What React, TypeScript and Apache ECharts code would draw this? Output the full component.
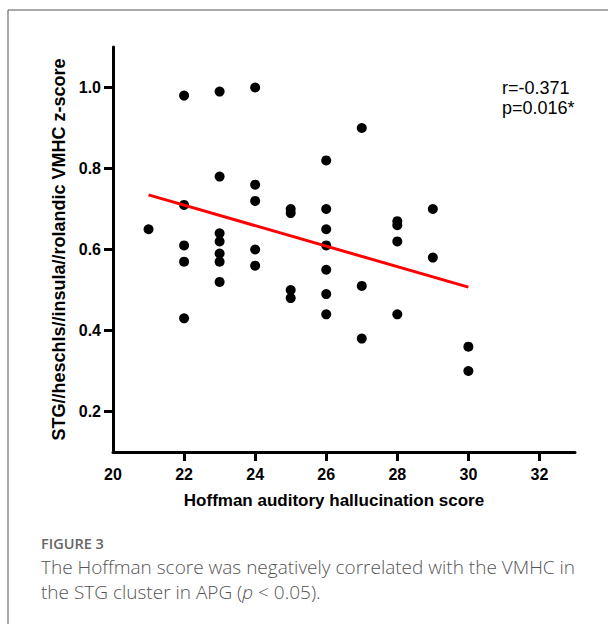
import React, { useEffect, useRef } from "react";
import * as echarts from "echarts";

const scoreX = [
  21,
  22, 22, 22, 22, 22,
  23, 23, 23, 23, 23, 23, 23,
  24, 24, 24, 24, 24,
  25, 25, 25, 25,
  26, 26, 26, 26, 26, 26, 26,
  27, 27, 27,
  28, 28, 28, 28,
  29, 29,
  30, 30,
];
const vmhc = [
  0.65,
  0.98, 0.71, 0.61, 0.57, 0.43,
  0.99, 0.78, 0.64, 0.62, 0.59, 0.57, 0.52,
  1.0, 0.76, 0.72, 0.6, 0.56,
  0.7, 0.69, 0.5, 0.48,
  0.82, 0.7, 0.65, 0.61, 0.55, 0.49, 0.44,
  0.9, 0.51, 0.38,
  0.67, 0.66, 0.62, 0.44,
  0.7, 0.58,
  0.36, 0.3,
];
const fitX = [21, 30];
const fitY = [0.735, 0.507];
const xLabelValues = [20, 22, 24, 26, 28, 30, 32];
const xTickValues = [22, 24, 26, 28, 30, 32];
const yTickValues = [0.2, 0.4, 0.6, 0.8, 1.0];
const statsLines = ["r=-0.371", "p=0.016*"];
const xTitle = "Hoffman auditory hallucination score";
const yTitle = "STG//heschls//insula//rolandic VMHC z-score";

export default function App() {
  const ref = useRef<HTMLDivElement>(null);
  useEffect(() => {
    if (!ref.current) return;
    const chart = echarts.init(ref.current, null, { renderer: "svg" });
    const font = "'Liberation Sans', Arial, sans-serif";
    const capFont = "'Open Sans', sans-serif";
    const axisCommon = {
      axisLine: { show: true, lineStyle: { color: "#000", width: 3 } },
      splitLine: { show: false },
    };
    chart.setOption({
      animation: false,
      backgroundColor: "#fff",
      grid: { left: 113, top: 47, width: 462, height: 405 },
      xAxis: {
        type: "value",
        min: 20,
        max: 33,
        ...axisCommon,
        axisTick: { show: true, length: 9, lineStyle: { width: 3, color: "#000" }, customValues: xTickValues },
        axisLabel: {
          customValues: xLabelValues,
          margin: 14,
          color: "#000",
          fontSize: 16,
          fontWeight: "bold",
          fontFamily: font,
        },
        name: xTitle,
        nameLocation: "middle",
        nameGap: 40,
        nameTextStyle: {
          color: "#000",
          fontSize: 17,
          fontWeight: "bold",
          fontFamily: font,
          padding: [0, 20, 0, 0],
        },
      },
      yAxis: {
        type: "value",
        min: 0.1,
        max: 1.1,
        ...axisCommon,
        axisTick: { show: true, length: 9, lineStyle: { width: 3, color: "#000" }, customValues: yTickValues },
        axisLabel: {
          customValues: yTickValues,
          margin: 12,
          color: "#000",
          fontSize: 16,
          fontWeight: "bold",
          fontFamily: font,
          formatter: (v: number) => v.toFixed(1),
        },
        name: yTitle,
        nameLocation: "middle",
        nameGap: 45,
        nameTextStyle: {
          color: "#000",
          fontSize: 18,
          fontWeight: "bold",
          fontFamily: font,
        },
      },
      series: [
        {
          type: "scatter",
          data: scoreX.map((x, i) => [x, vmhc[i]]),
          symbol: "circle",
          symbolSize: 10,
          itemStyle: { color: "#000", opacity: 1 },
        },
        {
          type: "line",
          data: fitX.map((x, i) => [x, fitY[i]]),
          symbol: "none",
          lineStyle: { color: "#ff0000", width: 3 },
        },
      ],
      graphic: [
        {
          type: "rect",
          shape: { x: 8, y: 10, width: 800, height: 800 },
          style: { fill: "none", stroke: "#555", lineWidth: 1 },
          silent: true,
        },
        {
          type: "text",
          left: 502,
          top: 78,
          style: {
            text: statsLines.join("\n"),
            fontSize: 18,
            lineHeight: 20,
            fontFamily: font,
            fill: "#000",
          },
        },
        {
          type: "text",
          left: 41,
          top: 536,
          style: {
            text: "FIGURE 3",
            fontSize: 14.5,
            fontFamily: capFont,
            fontWeight: 600,
            fill: "#666",
          },
        },
        {
          type: "text",
          left: 41,
          top: 554,
          style: {
            text: "The Hoffman score was negatively correlated with the VMHC in\n{n|the STG cluster in APG (}{i|p}{n| < 0.05).}",
            fontSize: 19,
            lineHeight: 25,
            fontFamily: capFont,
            fontWeight: 300,
            fill: "#555",
            rich: {
              n: { fontSize: 19, fontFamily: capFont, fontWeight: 300, fill: "#555", lineHeight: 25 },
              i: { fontSize: 19, fontFamily: capFont, fontWeight: 300, fontStyle: "italic", fill: "#555", lineHeight: 25 },
            },
          },
        },
      ],
    });
    return () => chart.dispose();
  }, []);
  return (
    <div
      ref={ref}
      style={{ position: "fixed", left: 0, top: 0, width: 608, height: 624 }}
    />
  );
}
